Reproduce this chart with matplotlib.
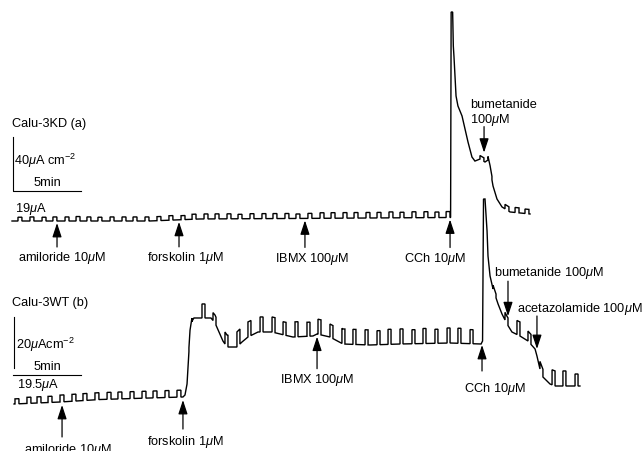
import numpy as np
import matplotlib
matplotlib.use("Agg")
import matplotlib.pyplot as plt

plt.rcParams['font.family'] = ['Liberation Sans', 'DejaVu Sans']
plt.rcParams['mathtext.fontset'] = 'custom'
plt.rcParams['mathtext.rm'] = 'Liberation Sans'
plt.rcParams['mathtext.it'] = 'Liberation Sans:italic'
plt.rcParams['mathtext.bf'] = 'Liberation Sans:bold'

# ---------------- Calu-3KD (a): Isc in uA cm-2, time in min ----------------
kd_base_t = [0.00, 10.10, 13.80, 21.20, 32.25, 32.29, 32.40, 32.45, 32.50,
             32.65, 32.79, 33.09, 33.31, 33.53, 33.82, 34.04, 34.41, 34.78,
             35.00, 35.15, 35.37, 35.66, 36.03, 36.62, 38.09]
kd_base_v = [0.0, 0.0, 1.5, 1.9, 2.6, 154.8, 154.8, 129.6, 121.5,
             92.6, 85.2, 77.8, 68.1, 58.5, 47.4, 44.4, 45.9, 43.7,
             45.2, 38.5, 25.9, 16.3, 10.4, 6.7, 5.2]
kd_pulse_t = [0.44, 1.32, 2.21, 3.01, 3.90, 4.71, 5.51, 6.32, 7.21, 8.09,
              8.90, 9.78, 10.66, 11.54, 12.43, 13.24, 14.12, 14.93, 15.81, 16.62,
              17.50, 18.38, 19.19, 20.07, 20.88, 21.76, 22.65, 23.46, 24.34, 25.15,
              26.03, 26.84, 27.72, 28.53, 29.41, 30.29, 31.10, 31.92,
              34.41, 35.00, 36.25, 36.99, 37.72]
kd_pulse_h = [2.8, 3.0, 2.8, 3.0, 3.0, 3.3, 3.0, 2.8, 3.0, 3.0,
              3.0, 3.0, 3.0, 3.3, 3.0, 3.7, 3.7, 3.7, 3.7, 3.3,
              3.7, 3.7, 3.7, 3.7, 3.3, 3.7, 4.1, 4.1, 4.1, 4.1,
              4.1, 4.1, 4.4, 4.1, 4.4, 4.4, 4.1, 4.4,
              2.6, 2.6, 3.3, 3.7, 3.3]
kd_events = [r"amiloride 10$\mu$M", r"forskolin 1$\mu$M", r"IBMX 100$\mu$M",
             r"CCh 10$\mu$M", "bumetanide\n100$\\mu$M"]
kd_event_t = [3.31, 12.28, 21.54, 32.21, 34.71]

# ---------------- Calu-3WT (b) ----------------
wt_base_t = [0.15, 3.53, 6.47, 12.57, 12.72, 12.87, 12.94, 13.09, 13.24, 13.38,
             14.63, 14.93, 15.22, 15.51, 15.81, 16.54, 16.91, 17.35, 18.09, 19.12,
             19.71, 20.66, 22.13, 22.43, 23.38, 24.34, 26.32, 28.53, 32.21, 34.49,
             34.60, 34.67, 34.78, 34.85, 34.93, 35.00, 35.15, 35.37, 35.74, 36.03,
             36.40, 36.76, 37.35, 37.94, 38.46, 38.60, 38.82, 39.04, 39.56, 39.93,
             41.76]
wt_base_v = [0.00, 0.78, 1.76, 2.75, 3.53, 7.84, 14.51, 27.45, 32.55, 33.73,
             33.73, 31.76, 28.24, 24.71, 22.35, 22.35, 24.31, 26.27, 28.24, 28.24,
             27.45, 26.27, 26.67, 27.45, 26.27, 23.53, 23.14, 23.53, 23.92, 23.53,
             24.71, 80.39, 80.39, 74.51, 67.84, 58.04, 50.20, 45.10, 39.22, 35.29,
             31.37, 28.24, 26.67, 24.71, 21.57, 18.82, 13.73, 10.59, 7.84, 7.06,
             7.06]
wt_pulse_t = [0.22, 1.10, 1.84, 2.65, 3.53, 4.41, 5.22, 6.10, 6.99, 7.79,
              8.68, 9.56, 10.37, 11.25, 12.13, 13.01, 13.97, 14.78, 15.66, 16.54,
              17.35, 18.24, 19.12, 19.93, 20.81, 21.69, 22.50, 23.38, 24.26, 25.07,
              25.96, 26.84, 27.65, 28.53, 29.41, 30.22, 31.10, 31.99, 32.79, 33.68,
              35.37, 36.25, 37.13, 37.94, 38.82, 39.71, 40.51, 41.40]
wt_pulse_h = [2.0, 2.4, 2.4, 2.4, 2.7, 2.7, 2.7, 2.7, 2.7, 2.7,
              2.7, 2.7, 2.7, 2.7, 2.7, 1.5, 5.5, 3.1, 4.7, 5.9,
              5.9, 5.9, 5.9, 5.1, 5.9, 5.5, 5.9, 5.1, 5.9, 5.9,
              5.9, 5.5, 5.9, 5.9, 5.5, 5.9, 5.5, 5.9, 5.9, 5.5,
              1.5, 3.0, 5.5, 3.9, 3.0, 5.9, 5.9, 4.7]
wt_events = [r"amiloride 10$\mu$M", r"forskolin 1$\mu$M", r"IBMX 100$\mu$M",
             r"CCh 10$\mu$M", r"bumetanide 100$\mu$M", r"acetazolamide 100$\mu$M"]
wt_event_t = [3.68, 12.57, 22.43, 34.56, 36.47, 38.60]


def build_trace(bt, bv, pt, ph, pw):
    """Piecewise-linear baseline with square current pulses on top."""
    bt = np.asarray(bt, float)
    bv = np.asarray(bv, float)
    pt = np.asarray(pt, float)
    ph = np.asarray(ph, float)
    pw = np.broadcast_to(np.asarray(pw, float), pt.shape)
    ends = pt + pw
    stamps = sorted(set(bt.tolist()) | set(pt.tolist()) | set(ends.tolist()))
    xs, ys = [], []
    for t in stamps:
        b = np.interp(t, bt, bv)
        inside = (pt < t - 1e-9) & (ends > t + 1e-9)
        h_in = ph[inside].sum()
        st = np.isclose(pt, t)
        en = np.isclose(ends, t)
        if st.any():
            xs += [t, t]
            ys += [b + h_in, b + h_in + ph[st].sum()]
        elif en.any():
            xs += [t, t]
            ys += [b + h_in + ph[en].sum(), b + h_in]
        else:
            xs.append(t)
            ys.append(b + h_in)
    return np.array(xs), np.array(ys)


fig = plt.figure(figsize=(6.43, 4.52), dpi=100)
ax_kd = fig.add_axes([0, 0, 1, 1])
ax_wt = fig.add_axes([0, 0, 1, 1])
px_per_min = 13.6
for ax in (ax_kd, ax_wt):
    ax.set_xlim(-12 / px_per_min, (643 - 12) / px_per_min)
    ax.axis('off')
    ax.patch.set_visible(False)
ax_kd.set_ylim(-(452 - 222) / 1.35, 222 / 1.35)
ax_wt.set_ylim(-(452 - 405) / 2.55, 405 / 2.55)

FS = 9.2
LW = 1.0

# traces
x, y = build_trace(kd_base_t, kd_base_v, kd_pulse_t, kd_pulse_h, 0.29)
ax_kd.plot(x, y, color='black', lw=LW, solid_joinstyle='miter')
wt_w = [0.29] * 15 + [0.22] * (len(wt_pulse_t) - 15)
x, y = build_trace(wt_base_t, wt_base_v, wt_pulse_t, wt_pulse_h, wt_w)
ax_wt.plot(x, y, color='black', lw=LW, solid_joinstyle='miter')

# scale bars
ax_kd.plot([0.05, 0.05, 5.05], [22.2 + 40, 22.2, 22.2], color='black', lw=0.8)
ax_kd.text(0.15, 45.2, r"40$\mu$A cm$^{-2}$", fontsize=FS, ha='left', va='center')
ax_kd.text(2.57, 28.9, "5min", fontsize=FS, ha='center', va='center')
ax_kd.text(0.2, 9.6, r"19$\mu$A", fontsize=FS, ha='left', va='center')
ax_kd.text(0.0, 72.5, "Calu-3KD (a)", fontsize=FS, ha='left', va='center')

ax_wt.plot([0.15, 0.15], [14.1, 14.1 + 20], color='black', lw=0.8)
ax_wt.plot([0.07, 5.07], [11.4, 11.4], color='black', lw=0.8)
ax_wt.text(0.29, 23.5, r"20$\mu$Acm$^{-2}$", fontsize=FS, ha='left', va='center')
ax_wt.text(2.57, 14.9, "5min", fontsize=FS, ha='center', va='center')
ax_wt.text(0.37, 7.84, r"19.5$\mu$A", fontsize=FS, ha='left', va='center')
ax_wt.text(0.0, 40.0, "Calu-3WT (b)", fontsize=FS, ha='left', va='center')

ARROW = "-|>,head_length=0.85,head_width=0.28"


def mark(ax, bt, bv, t, label, gap, tail, lab_dx, lab_dy, ha='center'):
    """Drug-addition arrow: gap/tail in pixels (negative = below trace)."""
    level = np.interp(t - 0.1, bt, bv)
    sign = 1 if tail > 0 else -1
    ax.annotate("", xy=(t, level), xycoords='data',
                xytext=(0, tail), textcoords='offset pixels',
                arrowprops=dict(arrowstyle=ARROW, color='black', lw=0.9,
                                shrinkA=0, shrinkB=abs(gap) * 0.72,
                                mutation_scale=10))
    ax.annotate(label, xy=(t, level), xycoords='data',
                xytext=(lab_dx, lab_dy), textcoords='offset pixels',
                fontsize=FS, ha=ha, va='center', linespacing=1.05)


kd_layout = [(2, -26, 5, -36, 'center'),
             (2, -27, 6, -37, 'center'),
             (2, -29, 7, -40, 'center'),
             (2, -30, -15, -40, 'center'),
             (8, 34, -14, 48, 'left')]
for t, lab, (g, tl, dx, dy, ha) in zip(kd_event_t, kd_events, kd_layout):
    mark(ax_kd, kd_base_t, kd_base_v, t, lab, g, tl, dx, dy, ha)

wt_layout = [(3, -35, 6, -47, 'center'),
             (3, -32, 2, -44, 'center'),
             (2, -34, 0, -44, 'center'),
             (1, -27, 13, -44, 'center'),
             (7, 42, -14, 51, 'left'),
             (2, 35, -20, 43, 'left')]
for t, lab, (g, tl, dx, dy, ha) in zip(wt_event_t, wt_events, wt_layout):
    mark(ax_wt, wt_base_t, wt_base_v, t, lab, g, tl, dx, dy, ha)

fig.savefig("out.png", dpi=100, facecolor='white')
